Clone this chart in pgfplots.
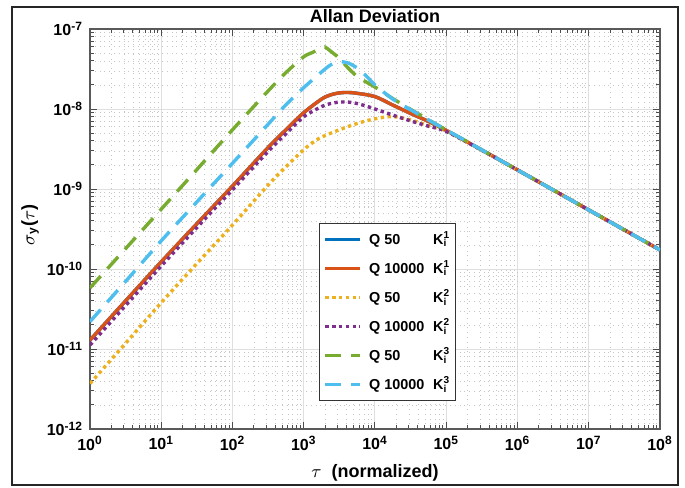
\documentclass[border=0pt]{standalone}
\usepackage{fontspec}
\setmainfont{Liberation Sans}
\usepackage{pgfplots}
\pgfplotsset{compat=1.18}

% MATLAB default line colours
\definecolor{mblue}{rgb}{0,0.447,0.741}
\definecolor{morange}{rgb}{0.850,0.325,0.098}
\definecolor{myellow}{rgb}{0.929,0.694,0.125}
\definecolor{mpurple}{rgb}{0.494,0.184,0.556}
\definecolor{mgreen}{rgb}{0.466,0.674,0.188}
\definecolor{mcyan}{rgb}{0.301,0.745,0.933}

\newcommand{\Ki}[1]{K\rlap{\textsuperscript{#1}}\textsubscript{i}}
\newcommand{\lbl}[2]{\makebox[32pt][l]{#1}\Ki{#2}}

\begin{document}
\begin{tikzpicture}
\begin{axis}[
  xmode=log, ymode=log,
  scale only axis, width=285pt, height=200pt,
  xmin=1, xmax=1e8, ymin=1e-12, ymax=1e-7,
  xtick={1,10,100,1000,1e4,1e5,1e6,1e7,1e8},
  xticklabels={10\textsuperscript{0},10\textsuperscript{1},10\textsuperscript{2},
    10\textsuperscript{3},10\textsuperscript{4},10\textsuperscript{5},
    10\textsuperscript{6},10\textsuperscript{7},10\textsuperscript{8}},
  ytick={1e-12,1e-11,1e-10,1e-9,1e-8,1e-7},
  yticklabels={10\textsuperscript{-12},10\textsuperscript{-11},10\textsuperscript{-10},
    10\textsuperscript{-9},10\textsuperscript{-8},10\textsuperscript{-7}},
  minor xtick={2,3,4,5,6,7,8,9,20,30,40,50,60,70,80,90,
    200,300,400,500,600,700,800,900,2e3,3e3,4e3,5e3,6e3,7e3,8e3,9e3,
    2e4,3e4,4e4,5e4,6e4,7e4,8e4,9e4,2e5,3e5,4e5,5e5,6e5,7e5,8e5,9e5,
    2e6,3e6,4e6,5e6,6e6,7e6,8e6,9e6,2e7,3e7,4e7,5e7,6e7,7e7,8e7,9e7},
  minor ytick={2e-12,3e-12,4e-12,5e-12,6e-12,7e-12,8e-12,9e-12,
    2e-11,3e-11,4e-11,5e-11,6e-11,7e-11,8e-11,9e-11,
    2e-10,3e-10,4e-10,5e-10,6e-10,7e-10,8e-10,9e-10,
    2e-9,3e-9,4e-9,5e-9,6e-9,7e-9,8e-9,9e-9,
    2e-8,3e-8,4e-8,5e-8,6e-8,7e-8,8e-8,9e-8},
  tick label style={font=\fontsize{8}{9}\selectfont\bfseries},
  grid=both,
  major grid style={gray!25, line width=0.5pt},
  minor grid style={gray!45, line width=0.3pt, dash pattern=on 0.4pt off 2pt},
  axis line style={black!65, line width=0.7pt},
  tick style={black!70, line width=0.5pt},
  major tick length=3.5pt, minor tick length=2pt,
  title={Allan Deviation},
  title style={font=\fontsize{9}{10}\selectfont\bfseries,
    at={(axis description cs:0.5,1)}, anchor=south, yshift=-6.3pt},
  xlabel={$\tau$\ \ (normalized)},
  xlabel style={font=\fontsize{9}{10}\selectfont\bfseries,
    at={(axis description cs:0.5,-0.11)}, anchor=center},
  ylabel={$\sigma$\textsubscript{y}($\tau$)},
  ylabel style={font=\fontsize{9}{10}\selectfont\bfseries,
    at={(axis description cs:-0.105,0.51)}, anchor=center},
  legend image code/.code={\draw[#1] (0pt,0pt) -- (17.5pt,0pt);},
  legend cell align=left,
  legend style={at={(axis description cs:0.402,0.515)}, anchor=north west,
    draw=black!80, line width=0.5pt, fill=white, inner sep=2pt,
    column sep=1.6pt, row sep=2.5pt,
    font=\fontsize{7.2}{8}\selectfont\bfseries},
]
\coordinate (sw) at (rel axis cs:0,0);

% Q 50, K_i^1
\addplot[mblue, line width=1.7pt, smooth] coordinates {
  (1,1.29e-11) (3.162,4.0e-11) (10,1.23e-10) (31.62,3.68e-10) (100,1.09e-9)
  (316.2,3.3e-9) (562.3,5.5e-9) (1000,9.0e-9) (1778,1.33e-8) (2371,1.5e-8)
  (3162,1.59e-8) (4217,1.61e-8) (5623,1.57e-8) (1e4,1.43e-8) (1.778e4,1.12e-8)
  (3.162e4,8.8e-9) (5.623e4,7.0e-9) (1e5,5.4e-9) (3.162e5,3.07e-9) (1e6,1.73e-9)
  (3.162e6,9.73e-10) (1e7,5.47e-10) (3.162e7,3.08e-10) (1e8,1.73e-10)};
\addlegendentry{\lbl{Q 50}{1}}
% Q 10000, K_i^1
\addplot[morange, line width=1.7pt, smooth] coordinates {
  (1,1.29e-11) (3.162,4.0e-11) (10,1.23e-10) (31.62,3.68e-10) (100,1.09e-9)
  (316.2,3.3e-9) (562.3,5.5e-9) (1000,9.0e-9) (1778,1.33e-8) (2371,1.5e-8)
  (3162,1.59e-8) (4217,1.61e-8) (5623,1.57e-8) (1e4,1.43e-8) (1.778e4,1.12e-8)
  (3.162e4,8.8e-9) (5.623e4,7.0e-9) (1e5,5.4e-9) (3.162e5,3.07e-9) (1e6,1.73e-9)
  (3.162e6,9.73e-10) (1e7,5.47e-10) (3.162e7,3.08e-10) (1e8,1.73e-10)};
\addlegendentry{\lbl{Q 10000}{1}}
% Q 50, K_i^2
\addplot[myellow, line width=1.7pt, dash pattern=on 1.7pt off 1.7pt, smooth] coordinates {
  (1,3.7e-12) (3.162,1.18e-11) (10,3.8e-11) (31.62,1.17e-10) (100,3.55e-10)
  (316.2,1.12e-9) (562.3,1.9e-9) (1000,3.1e-9) (1334,3.8e-9) (1778,4.45e-9)
  (3162,5.5e-9) (5623,6.6e-9) (1e4,7.55e-9) (1.778e4,8.05e-9) (3.162e4,7.3e-9)
  (5.623e4,6.2e-9) (1e5,5.3e-9) (3.162e5,3.05e-9) (1e6,1.73e-9) (3.162e6,9.73e-10)
  (1e7,5.47e-10) (3.162e7,3.08e-10) (1e8,1.73e-10)};
\addlegendentry{\lbl{Q 50}{2}}
% Q 10000, K_i^2
\addplot[mpurple, line width=1.7pt, dash pattern=on 1.7pt off 1.7pt, smooth] coordinates {
  (1,1.12e-11) (3.162,3.5e-11) (10,1.09e-10) (31.62,3.3e-10) (100,9.8e-10)
  (316.2,2.95e-9) (562.3,4.9e-9) (1000,8.0e-9) (1778,1.07e-8) (2371,1.17e-8)
  (3162,1.22e-8) (4217,1.22e-8) (5623,1.17e-8) (7499,1.09e-8) (1e4,1.0e-8)
  (1.778e4,8.4e-9) (3.162e4,7.1e-9) (5.623e4,6.1e-9) (1e5,5.25e-9) (3.162e5,3.05e-9)
  (1e6,1.73e-9) (3.162e6,9.73e-10) (1e7,5.47e-10) (3.162e7,3.08e-10) (1e8,1.73e-10)};
\addlegendentry{\lbl{Q 10000}{2}}
% Q 50, K_i^3
\addplot[mgreen, line width=1.7pt, dash pattern=on 8pt off 5pt, smooth] coordinates {
  (1,5.8e-11) (3.162,1.8e-10) (10,5.6e-10) (31.62,1.75e-9) (100,5.5e-9)
  (316.2,1.68e-8) (562.3,2.85e-8) (1000,4.5e-8) (1334,5.1e-8) (1778,5.85e-8)
  (1995,5.95e-8) (2371,5.3e-8) (3162,4.3e-8) (4217,3.24e-8) (5623,2.55e-8)
  (7499,2.18e-8) (1e4,1.88e-8) (1.778e4,1.35e-8) (3.162e4,9.9e-9) (5.623e4,7.35e-9)
  (1e5,5.47e-9) (3.162e5,3.08e-9) (1e6,1.73e-9) (3.162e6,9.73e-10)
  (1e7,5.47e-10) (3.162e7,3.08e-10) (1e8,1.73e-10)};
\addlegendentry{\lbl{Q 50}{3}}
% Q 10000, K_i^3
\addplot[mcyan, line width=1.7pt, dash pattern=on 8pt off 5pt, smooth] coordinates {
  (1,2.2e-11) (3.162,7.0e-11) (10,2.25e-10) (31.62,6.9e-10) (100,2.1e-9)
  (316.2,6.45e-9) (562.3,1.13e-8) (1000,1.85e-8) (1778,2.9e-8) (2371,3.55e-8)
  (3162,3.9e-8) (4217,3.75e-8) (5623,3.25e-8) (7499,2.6e-8) (1e4,2.0e-8)
  (1.778e4,1.33e-8) (3.162e4,9.8e-9) (5.623e4,7.3e-9) (1e5,5.47e-9)
  (3.162e5,3.08e-9) (1e6,1.73e-9) (3.162e6,9.73e-10) (1e7,5.47e-10)
  (3.162e7,3.08e-10) (1e8,1.73e-10)};
\addlegendentry{\lbl{Q 10000}{3}}
\end{axis}
% figure frame
\draw[black!85, line width=0.8pt] ([shift={(-39pt,-28pt)}]sw) rectangle ([shift={(294pt,211pt)}]sw);
\pgfresetboundingbox
\path[use as bounding box] ([shift={(-45pt,-29pt)}]sw) rectangle ([shift={(297.5pt,214.5pt)}]sw);
\end{tikzpicture}
\end{document}
